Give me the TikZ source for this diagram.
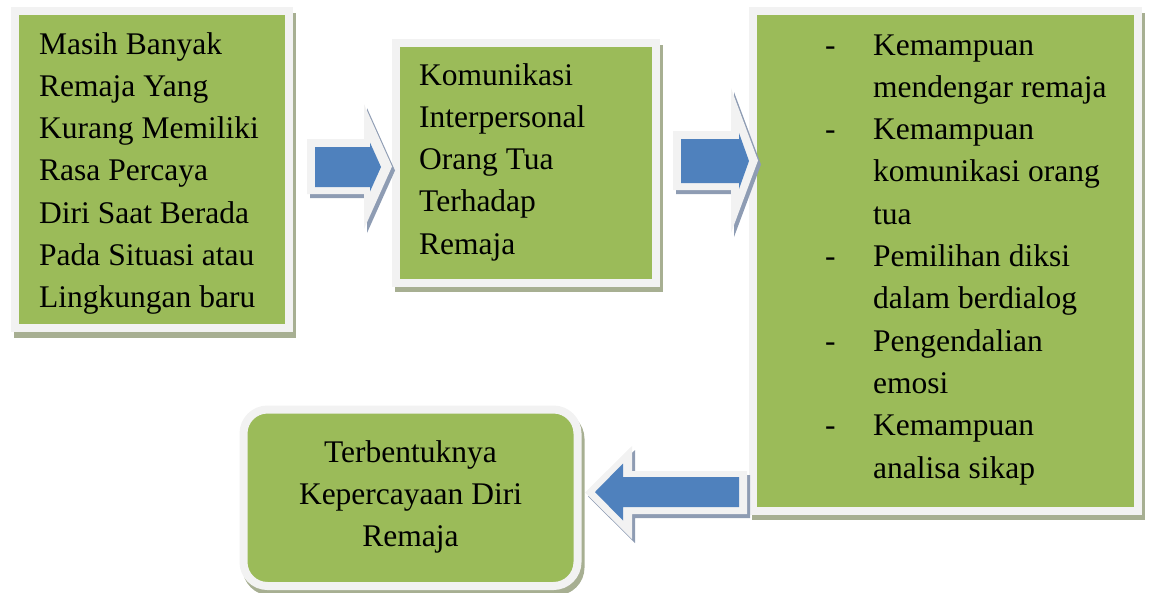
\documentclass[tikz,border=0pt]{standalone}
\usepackage{fontspec}
\setmainfont{Liberation Serif}
\usetikzlibrary{positioning, shadows}
\definecolor{boxgreen}{HTML}{9BBB59}
\definecolor{rim}{HTML}{F2F2F2}
\definecolor{boxshade}{HTML}{A7AF92}
\definecolor{arrowblue}{HTML}{4F81BD}
\definecolor{arrowshade}{HTML}{8E9CB3}
\tikzset{
	box/.style={draw=rim, line width=8pt, fill=boxgreen, inner sep=0pt, outer sep=0pt,
		general shadow={shadow xshift=3pt, shadow yshift=-5.5pt, fill=boxshade, draw=boxshade}},
	txt/.style={font=\fontsize{31.5}{42.3}\selectfont, align=left, inner sep=0pt},
	rimarrow/.style={fill=rim},
	bluearrow/.style={fill=arrowblue},
	shadearrow/.style={fill=arrowshade, shift={(3,4)}},
}
% block arrow: style, start x, tip x, centre y, body half, head half, head base x
\newcommand{\blockarrow}[7]{%
	\fill[#1] ({#2},{#4-#5}) -- ({#7},{#4-#5}) -- ({#7},{#4-#6}) -- ({#3},{#4})
		-- ({#7},{#4+#6}) -- ({#7},{#4+#5}) -- ({#2},{#4+#5}) -- cycle;}
\newcommand{\itemdash}{\makebox[48pt][l]{-}}
\newcommand{\itemind}{\hspace*{48pt}}

\begin{document}
\begin{tikzpicture}[x=1pt, y=-1pt]
	\useasboundingbox (0,0) rectangle (1149,592);
	% boxes
	\node[box, minimum width=274, minimum height=317] (masih) at (152,169.5) {};
	\node[box, minimum width=260, minimum height=239.5] (komunikasi) at (525.5,162.75) {};
	\node[box, minimum width=384.5, minimum height=499.5] (faktor) at (945.25,260.75) {};
	\node[box, rounded corners=24pt, minimum width=334, minimum height=176.5] (hasil) at (410.5,497.75) {};
	% texts (base = last line)
	\node[txt, anchor=base west] (masihtxt) at (39,307.8)
		{Masih Banyak\\Remaja Yang\\Kurang Memiliki\\Rasa Percaya\\Diri Saat Berada\\Pada Situasi atau\\Lingkungan baru};
	\node[txt, anchor=base west] (komunikasitxt) at (419,254.2)
		{Komunikasi\\Interpersonal\\Orang Tua\\Terhadap\\Remaja};
	\node[txt, anchor=base west] (faktortxt) at (825,478)
		{\itemdash Kemampuan\\\itemind mendengar remaja\\
		 \itemdash Kemampuan\\\itemind komunikasi orang\\\itemind tua\\
		 \itemdash Pemilihan diksi\\\itemind dalam berdialog\\
		 \itemdash Pengendalian\\\itemind emosi\\
		 \itemdash Kemampuan\\\itemind analisa sikap};
	\node[txt, align=center, anchor=base] (hasiltxt) at (410.5,546.6)
		{Terbentuknya\\Kepercayaan Diri\\Remaja};
	% arrows
	\blockarrow{shadearrow}{307}{392}{166.5}{27.5}{62.5}{364}
	\blockarrow{rimarrow}{307}{392}{166.5}{27.5}{62.5}{364}
	\blockarrow{bluearrow}{315}{381}{167}{20}{24.5}{370}
	\blockarrow{shadearrow}{673}{758}{160.5}{29.5}{72.5}{731}
	\blockarrow{rimarrow}{673}{758}{160.5}{29.5}{72.5}{731}
	\blockarrow{bluearrow}{681}{749}{161}{22}{28}{739}
	\blockarrow{shadearrow}{747}{585}{492.5}{21.5}{46.5}{632}
	\blockarrow{rimarrow}{747}{585}{492.5}{21.5}{46.5}{632}
	\blockarrow{bluearrow}{739}{595}{492}{15}{28.5}{623}
\end{tikzpicture}
\end{document}
